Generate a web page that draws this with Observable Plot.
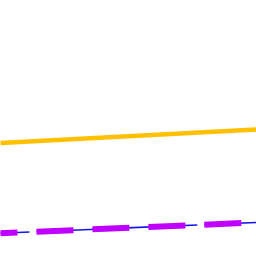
<!DOCTYPE html>
<html>
<head>
<meta charset="utf-8">
<script src="https://cdn.jsdelivr.net/npm/d3@7"></script>
<script src="https://cdn.jsdelivr.net/npm/@observablehq/plot@0.6"></script>
<style>
  html, body { margin: 0; padding: 0; background: #fff; }
</style>
</head>
<body>
<div id="chart"></div>
<script>
const xs = [0, 10];
const yellowValues = [4.43, 4.96];
const blueValues = [0.91, 1.33];
const purpleValues = [0.91, 1.33];

const yellow = xs.map((x, i) => ({x, y: yellowValues[i]}));
const blue = xs.map((x, i) => ({x, y: blueValues[i]}));
const purple = xs.map((x, i) => ({x, y: purpleValues[i]}));

const chart = Plot.plot({
  width: 256,
  height: 256,
  margin: 0,
  x: {domain: [0, 10], axis: null},
  y: {domain: [0, 10], axis: null},
  marks: [
    Plot.line(yellow, {x: "x", y: "y", stroke: "#FFC000", strokeWidth: 4.5, strokeLinecap: "butt"}),
    Plot.line(blue, {x: "x", y: "y", stroke: "#1515F0", strokeWidth: 1.6, strokeDasharray: "77,7", strokeDashoffset: 48, strokeLinecap: "butt"}),
    Plot.line(purple, {x: "x", y: "y", stroke: "#C000FF", strokeWidth: 6, strokeDasharray: "37,19", strokeDashoffset: 20, strokeLinecap: "butt"})
  ]
});
document.getElementById("chart").appendChild(chart);
</script>
</body>
</html>
